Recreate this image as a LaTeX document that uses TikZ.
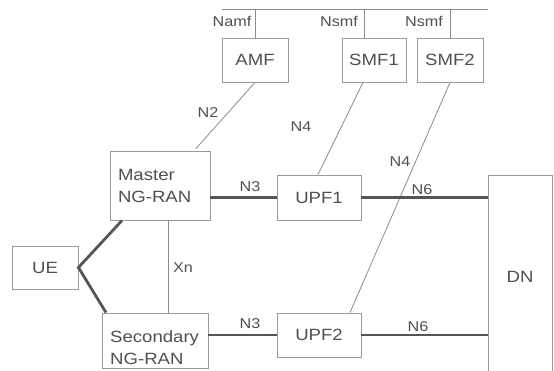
\documentclass[tikz,border=0pt]{standalone}
\usepackage{fontspec}
\setmainfont[FakeStretch=1.14]{Liberation Sans}
\definecolor{boxc}{HTML}{999999}
\definecolor{linec}{HTML}{8C8C8C}
\definecolor{thickc}{HTML}{555555}
\definecolor{txtc}{HTML}{505050}
\begin{document}
\begin{tikzpicture}[x=1pt,y=-1pt,
  box/.style={draw=boxc, line width=0.9pt, inner sep=0pt, text=txtc,
    font=\fontsize{16.3}{22}\selectfont},
  txt/.style={text=txtc, inner sep=0pt, font=\fontsize{16.3}{22}\selectfont},
  lbl/.style={text=txtc, inner sep=0pt, font=\fontsize{14.2}{16}\selectfont},
  thinln/.style={draw=linec, line width=0.8pt},
  thickln/.style={draw=thickc, line width=2.8pt}]
\clip (0,0) rectangle (554,371);
\fill[white] (0,0) rectangle (554,371);
% boxes
\node[box, minimum width=66pt, minimum height=44pt] (amf) at (255,60) {AMF};
\node[box, minimum width=64pt, minimum height=44pt] (smf1) at (374,60) {SMF1};
\node[box, minimum width=66pt, minimum height=44pt] (smf2) at (450,60) {SMF2};
\node[box, text width=84pt, inner xsep=8pt, minimum height=69pt, align=left] (master) at (160,185.5) {Master\\NG-RAN};
\node[box, minimum width=84pt, minimum height=45pt] (upf1) at (319,197.5) {UPF1};
\node[box, minimum width=84pt, minimum height=44pt] (upf2) at (319,335) {UPF2};
\node[box, minimum width=106pt, minimum height=55pt] (sec) at (155,340.5) {};
\node[txt, align=left, anchor=west] (sectext) at (110,348) {Secondary\\NG-RAN};
\node[box, minimum width=66pt, minimum height=43pt] (ue) at (45,267.5) {UE};
\node[box, minimum width=64pt, minimum height=204pt] (dn) at (520,277) {DN};
% bus
\coordinate (busL) at (222,9);
\coordinate (busR) at (488,9);
\draw[thinln] (busL) -- (busR);
\draw[thinln] (amf.north) -- (amf.north |- busL);
\draw[thinln] ([xshift=-10pt]smf1.north) coordinate (d1) -- (d1 |- busL);
\draw[thinln] (smf2.north) -- (smf2.north |- busL);
% control lines
\draw[thinln] (amf.south) -- ([xshift=36pt,yshift=2pt]master.north);
\draw[thinln] ([xshift=-11pt]smf1.south) -- ([xshift=-1pt]upf1.north);
\draw[thinln] (smf2.south) -- ([xshift=31pt]upf2.north);
\draw[thinln] ([xshift=8pt]master.south) coordinate (x1) -- (x1 |- sec.north);
% user plane
\draw[thickln] (upf1.west) -- (upf1.west -| master.east);
\draw[thickln] (upf2.west) -- (upf2.west -| sec.east);
\draw[thickln] (upf1.east) -- (upf1.east -| dn.west);
\draw[thickln] (upf2.east) -- (upf2.east -| dn.west);
\draw[thickln] ([xshift=-38pt]master.south) -- (ue.east) -- ([xshift=-49pt]sec.north);
% labels
\node[lbl] (lnamf) at (232,21) {Namf};
\node[lbl] (lnsmf1) at (339,21) {Nsmf};
\node[lbl] (lnsmf2) at (424,21) {Nsmf};
\node[lbl] (ln2) at (208,113) {N2};
\node[lbl] (ln4a) at (301,127) {N4};
\node[lbl] (ln4b) at (400,162) {N4};
\node[lbl] (ln3a) at (250,187) {N3};
\node[lbl] (ln3b) at (250,324) {N3};
\node[lbl] (ln6a) at (422,190) {N6};
\node[lbl] (ln6b) at (418,327) {N6};
\node[lbl] (lxn) at (183,268) {Xn};
\end{tikzpicture}
\end{document}
